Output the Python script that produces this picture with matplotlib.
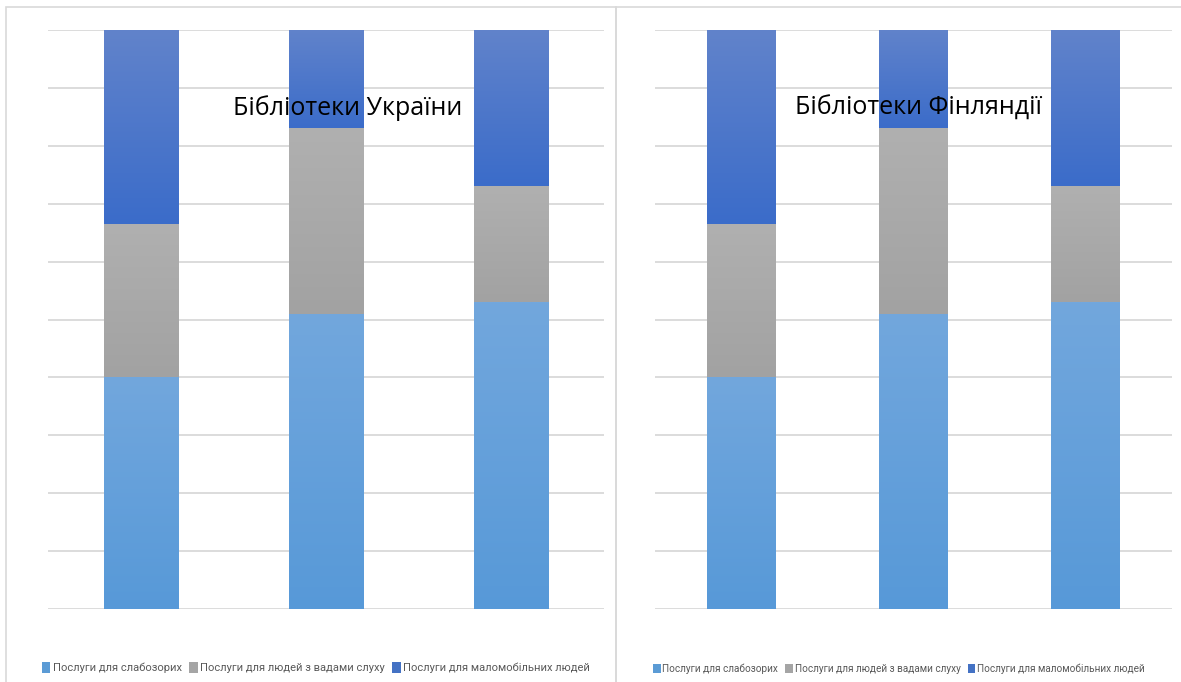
"""Two 100% stacked bar charts: library services in Ukraine and Finland."""

import matplotlib

matplotlib.use("Agg")
import matplotlib.pyplot as plt
import numpy as np
from matplotlib.colors import LinearSegmentedColormap
from matplotlib.patches import Patch, Rectangle

categories = ["1", "2", "3"]
series_names = [
    "Послуги для слабозорих",
    "Послуги для людей з вадами слуху",
    "Послуги для маломобільних людей",
]
low_vision = [40, 51, 53]
hearing = [26.5, 32, 20]
mobility = [33.5, 17, 27]
panel_titles = ["Бібліотеки України", "Бібліотеки Фінляндії"]

# (top colour, bottom colour) of the gradient for each series
gradients = [
    ("#72a7dd", "#5799d8"),
    ("#b0b0b0", "#a2a2a2"),
    ("#6183cb", "#3b6cc9"),
]
legend_colors = ["#5b9bd5", "#a5a5a5", "#4472c4"]
grid_color = "#d9d9d9"

plt.rcParams["font.family"] = ["Open Sans", "DejaVu Sans"]

fig = plt.figure(figsize=(11.81, 6.82), dpi=100)

# panel borders
for x0, x1 in [(6, 616), (616, 1185)]:
    fig.add_artist(
        Rectangle(
            (x0 / 1181, -0.1),
            (x1 - x0) / 1181,
            1.1 - 7 / 682,
            transform=fig.transFigure,
            fill=False,
            edgecolor="#d9d9d9",
            linewidth=1.2,
        )
    )

axes_boxes = [
    (48 / 1181, 1 - 609 / 682, 556 / 1181, 579 / 682),
    (655 / 1181, 1 - 609 / 682, 517 / 1181, 579 / 682),
]
title_pos = [(348 / 1181, 1 - 108 / 682), (918 / 1181, 1 - 108 / 682)]
legend_pos = [(316 / 1181, 1 - 682 / 682), (899 / 1181, 1 - 682 / 682)]
legend_sizes = [8, 7.2]

values = [low_vision, hearing, mobility]
x = np.arange(len(categories))
width = 0.4

for box, title, tpos, lpos, lsize in zip(
    axes_boxes, panel_titles, title_pos, legend_pos, legend_sizes
):
    ax = fig.add_axes(box)
    ax.set_yticks(np.arange(0, 101, 10))
    ax.set_xticks([])
    ax.tick_params(left=False, labelleft=False)
    for s in ax.spines.values():
        s.set_visible(False)
    ax.yaxis.grid(True, color=grid_color, linewidth=1.3)
    ax.set_axisbelow(True)

    bottom = np.zeros(len(categories))
    for vals, (top_c, bot_c) in zip(values, gradients):
        bars = ax.bar(x, vals, width, bottom=bottom, color="none", linewidth=0)
        cmap = LinearSegmentedColormap.from_list("g", [bot_c, top_c])
        grad = np.linspace(0, 1, 256).reshape(-1, 1)
        for bar in bars:
            bx, by = bar.get_x(), bar.get_y()
            ax.imshow(
                grad,
                cmap=cmap,
                origin="lower",
                aspect="auto",
                extent=(bx, bx + bar.get_width(), by, by + bar.get_height()),
                zorder=2,
            )
        bottom += np.array(vals)
    ax.set_xlim(-0.5, len(categories) - 0.5)
    ax.set_ylim(0, 100)

    fig.text(tpos[0], tpos[1], title, ha="center", va="center", fontsize=18,
             color="#000000")

    handles = [Patch(facecolor=c, edgecolor="none") for c in legend_colors]
    fig.legend(
        handles,
        series_names,
        loc="lower center",
        bbox_to_anchor=lpos,
        ncol=3,
        frameon=False,
        handlelength=0.75,
        handleheight=1.1,
        handletextpad=0.2,
        columnspacing=0.7,
        borderpad=0.3,
        prop={"family": ["Roboto", "DejaVu Sans"], "size": lsize},
        labelcolor="#595959",
    )

fig.savefig("out.png", dpi=100)
